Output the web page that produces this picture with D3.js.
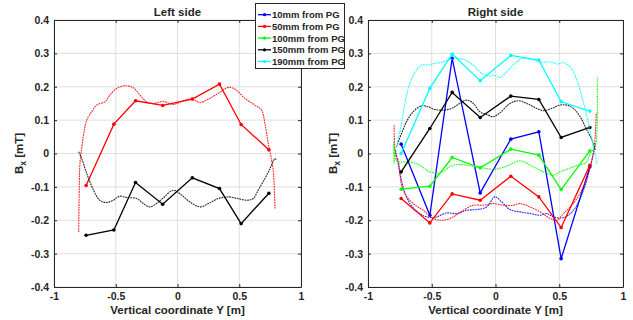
<!DOCTYPE html>
<html><head><meta charset="utf-8">
<script src="https://cdn.jsdelivr.net/npm/d3@7"></script>
<style>
body{margin:0;background:#fff;}
text{font-family:"Liberation Sans",Arial,Helvetica,sans-serif;font-weight:bold;fill:#262626;}
</style></head>
<body><svg id="c" width="633" height="320"></svg>
<script>
// ---------- data ----------
const seriesNames = ["10mm from PG","50mm from PG","100mm from PG","150mm from PG","190mm from PG"];
const seriesColors = ["#0000ff","#ff0000","#00ff00","#000000","#00ffff"];
const xTicks = [-1,-0.5,0,0.5,1];
const yTicks = [-0.4,-0.3,-0.2,-0.1,0,0.1,0.2,0.3,0.4];
const probeY = [-0.74,-0.515,-0.34,-0.12,0.12,0.34,0.515,0.74];

// Left side, measured points
const leftRed   = [-0.096,0.088,0.158,0.144,0.163,0.208,0.087,0.011];
const leftBlack = [-0.245,-0.229,-0.087,-0.152,-0.073,-0.105,-0.21,-0.119];
// Left side, profiles
const leftRedProfile = [[-0.80,-0.235],[-0.795,-0.10],[-0.79,-0.03],[-0.763,0.05],[-0.735,0.10],[-0.695,0.125],[-0.655,0.145],[-0.587,0.155],[-0.547,0.175],[-0.493,0.195],[-0.425,0.203],[-0.358,0.197],[-0.304,0.175],[-0.25,0.155],[-0.196,0.150],[-0.115,0.156],[-0.034,0.147],[0.06,0.16],[0.115,0.163],[0.182,0.153],[0.25,0.163],[0.33,0.18],[0.41,0.198],[0.465,0.193],[0.546,0.165],[0.627,0.145],[0.68,0.13],[0.708,0.09],[0.735,0.03],[0.762,-0.02],[0.775,-0.05],[0.79,-0.165]];
const leftBlackProfile = [[-0.80,0.005],[-0.776,-0.015],[-0.735,-0.06],[-0.68,-0.11],[-0.63,-0.14],[-0.575,-0.147],[-0.52,-0.14],[-0.466,-0.128],[-0.41,-0.132],[-0.33,-0.135],[-0.277,-0.15],[-0.223,-0.16],[-0.17,-0.15],[-0.115,-0.133],[-0.034,-0.11],[0.034,-0.125],[0.10,-0.145],[0.182,-0.16],[0.25,-0.15],[0.33,-0.135],[0.41,-0.13],[0.49,-0.135],[0.56,-0.14],[0.613,-0.135],[0.653,-0.11],[0.708,-0.075],[0.749,-0.045],[0.79,-0.015],[0.80,-0.02]];

// Right side, measured points
const rightBlue  = [0.028,-0.185,0.285,-0.118,0.043,0.065,-0.315,-0.04];
const rightRed   = [-0.135,-0.208,-0.121,-0.14,-0.068,-0.13,-0.222,-0.035];
const rightGreen = [-0.107,-0.098,-0.012,-0.043,0.013,-0.005,-0.108,0.008];
const rightBlack = [-0.055,0.075,0.183,0.108,0.172,0.162,0.048,0.078];
const rightCyan  = [0.0,0.195,0.298,0.218,0.294,0.28,0.155,0.127];
// Right side, profiles
const rightBlueProfile = [[-0.785,0.01],[-0.764,-0.03],[-0.725,-0.1],[-0.672,-0.15],[-0.594,-0.18],[-0.515,-0.192],[-0.462,-0.19],[-0.384,-0.178],[-0.305,-0.18],[-0.226,-0.17],[-0.148,-0.168],[-0.069,-0.16],[-0.005,-0.13],[0.048,-0.145],[0.114,-0.168],[0.193,-0.175],[0.272,-0.18],[0.35,-0.185],[0.403,-0.18],[0.455,-0.19],[0.533,-0.192],[0.612,-0.17],[0.69,-0.11],[0.743,-0.04],[0.785,0.03]];
const rightRedProfile = [[-0.795,0.085],[-0.785,0.0],[-0.764,-0.02],[-0.725,-0.11],[-0.646,-0.15],[-0.567,-0.17],[-0.489,-0.195],[-0.41,-0.2],[-0.332,-0.19],[-0.253,-0.17],[-0.174,-0.155],[-0.096,-0.155],[-0.017,-0.15],[0.061,-0.155],[0.14,-0.155],[0.193,-0.15],[0.27,-0.16],[0.35,-0.175],[0.43,-0.195],[0.48,-0.2],[0.533,-0.18],[0.61,-0.15],[0.69,-0.1],[0.743,-0.04],[0.775,0.02],[0.79,0.12]];
const rightGreenProfile = [[-0.80,0.035],[-0.795,-0.03],[-0.79,0.02],[-0.78,-0.02],[-0.764,-0.025],[-0.672,-0.025],[-0.594,-0.035],[-0.515,-0.055],[-0.436,-0.058],[-0.332,-0.035],[-0.226,-0.035],[-0.148,-0.04],[-0.069,-0.045],[-0.017,-0.048],[0.088,-0.038],[0.193,-0.022],[0.297,-0.04],[0.403,-0.06],[0.455,-0.065],[0.507,-0.055],[0.61,-0.04],[0.717,-0.025],[0.743,0.0],[0.78,0.02],[0.795,0.06],[0.798,0.23]];
const rightBlackProfile = [[-0.777,0.02],[-0.737,0.06],[-0.698,0.095],[-0.646,0.125],[-0.58,0.143],[-0.528,0.14],[-0.476,0.132],[-0.41,0.13],[-0.344,0.135],[-0.28,0.15],[-0.226,0.16],[-0.174,0.15],[-0.122,0.125],[-0.057,0.115],[-0.017,0.11],[0.035,0.122],[0.114,0.15],[0.18,0.158],[0.245,0.15],[0.324,0.135],[0.376,0.128],[0.44,0.135],[0.506,0.145],[0.559,0.145],[0.612,0.135],[0.664,0.11],[0.717,0.07],[0.757,0.04],[0.783,0.01]];
const rightCyanProfile = [[-0.777,0.02],[-0.737,0.09],[-0.711,0.15],[-0.672,0.21],[-0.62,0.25],[-0.58,0.265],[-0.528,0.265],[-0.476,0.27],[-0.423,0.273],[-0.37,0.28],[-0.305,0.285],[-0.24,0.28],[-0.16,0.26],[-0.108,0.24],[-0.043,0.232],[-0.017,0.235],[0.035,0.228],[0.1,0.25],[0.167,0.275],[0.218,0.285],[0.297,0.28],[0.376,0.273],[0.428,0.275],[0.48,0.268],[0.533,0.272],[0.586,0.26],[0.638,0.22],[0.678,0.17],[0.717,0.11],[0.757,0.04],[0.796,-0.03]];

// ---------- drawing ----------
const svg = d3.select("#c");
const AX = "#262626";

function panel(cfg){
  const x = d3.scaleLinear().domain([-1,1]).range([cfg.x0,cfg.x1]);
  const y = d3.scaleLinear().domain([-0.4,0.4]).range([cfg.y1,cfg.y0]);
  const g = svg.append("g");
  // grid
  g.selectAll(".gx").data(xTicks).enter().append("line")
    .attr("x1",d=>x(d)).attr("x2",d=>x(d)).attr("y1",cfg.y0).attr("y2",cfg.y1)
    .attr("stroke","#dfdfdf").attr("stroke-width",1);
  g.selectAll(".gy").data(yTicks).enter().append("line")
    .attr("y1",d=>y(d)).attr("y2",d=>y(d)).attr("x1",cfg.x0).attr("x2",cfg.x1)
    .attr("stroke","#dfdfdf").attr("stroke-width",1);
  // axes
  const fmt = d=> d===0?"0":String(d);
  const ax = g.append("g").attr("transform",`translate(0,${cfg.y1})`)
    .call(d3.axisBottom(x).tickValues(xTicks).tickFormat(fmt).tickSizeInner(-3).tickSizeOuter(0).tickPadding(7));
  const ay = g.append("g").attr("transform",`translate(${cfg.x0},0)`)
    .call(d3.axisLeft(y).tickValues(yTicks).tickFormat(fmt).tickSizeInner(-3).tickSizeOuter(0).tickPadding(5));
  const ax2 = g.append("g").attr("transform",`translate(0,${cfg.y0})`)
    .call(d3.axisTop(x).tickValues(xTicks).tickFormat("").tickSizeInner(-3).tickSizeOuter(0));
  const ay2 = g.append("g").attr("transform",`translate(${cfg.x1},0)`)
    .call(d3.axisRight(y).tickValues(yTicks).tickFormat("").tickSizeInner(-3).tickSizeOuter(0));
  [ax,ay,ax2,ay2].forEach(a=>{
    a.selectAll("path").attr("stroke",AX).attr("stroke-width",1);
    a.selectAll("line").attr("stroke",AX);
    a.selectAll("text").style("font-size","10.5px").attr("fill",AX).style("font-family","Liberation Sans,Arial,sans-serif").style("font-weight","bold");
  });
  ax.selectAll("text").attr("dy","0.6em");
  // series
  const line = d3.line().x(d=>x(d[0])).y(d=>y(d[1]));
  cfg.series.forEach(s=>{
    const pts = probeY.map((p,i)=>[p,s.vals[i]]);
    g.append("path").datum(pts).attr("d",line).attr("fill","none")
      .attr("stroke",s.color).attr("stroke-width",1.3);
    g.selectAll(null).data(pts).enter().append("circle")
      .attr("cx",d=>x(d[0])).attr("cy",d=>y(d[1])).attr("r",1.8).attr("fill",s.color);
    g.append("path").datum(s.profile).attr("d",d3.line().curve(d3.curveCatmullRom).x(d=>x(d[0])).y(d=>y(d[1])))
      .attr("fill","none").attr("stroke",s.color).attr("stroke-width",1.1)
      .attr("stroke-dasharray","1.8,0.8").attr("opacity",0.85);
  });
  // title
  g.append("text").attr("x",(cfg.x0+cfg.x1)/2).attr("y",16).attr("text-anchor","middle")
    .style("font-size","11.5px").text(cfg.title);
  // x label
  g.append("text").attr("x",(cfg.x0+cfg.x1)/2).attr("y",314).attr("text-anchor","middle")
    .style("font-size","11.5px").text("Vertical coordinate Y [m]");
  // y label
  const yl = g.append("text").attr("transform",`translate(${cfg.x0-31},${(cfg.y0+cfg.y1)/2}) rotate(-90)`)
    .attr("text-anchor","middle").style("font-size","11.5px");
  yl.append("tspan").text("B");
  yl.append("tspan").attr("dy",3).style("font-size","8.5px").text("x");
  yl.append("tspan").attr("dy",-3).text(" [mT]");
}

panel({x0:54,x1:301,y0:20,y1:287,title:"Left side",series:[
  {color:seriesColors[1],vals:leftRed,profile:leftRedProfile},
  {color:seriesColors[3],vals:leftBlack,profile:leftBlackProfile}
]});
panel({x0:368,x1:623,y0:20,y1:287,title:"Right side",series:[
  {color:seriesColors[0],vals:rightBlue,profile:rightBlueProfile},
  {color:seriesColors[1],vals:rightRed,profile:rightRedProfile},
  {color:seriesColors[2],vals:rightGreen,profile:rightGreenProfile},
  {color:seriesColors[3],vals:rightBlack,profile:rightBlackProfile},
  {color:seriesColors[4],vals:rightCyan,profile:rightCyanProfile}
]});

// legend
const lg = svg.append("g");
lg.append("rect").attr("x",255.5).attr("y",3.5).attr("width",89).attr("height",65)
  .attr("fill","#fff").attr("stroke",AX).attr("stroke-width",1);
seriesNames.forEach((n,i)=>{
  const yy = 14.7 + i*11.7;
  lg.append("line").attr("x1",258).attr("x2",271).attr("y1",yy).attr("y2",yy)
    .attr("stroke",seriesColors[i]).attr("stroke-width",1.3);
  lg.append("circle").attr("cx",264.5).attr("cy",yy).attr("r",1.6).attr("fill",seriesColors[i]);
  lg.append("text").attr("x",272).attr("y",yy+3.4).style("font-size","9.5px").text(n);
});
</script></body></html>
